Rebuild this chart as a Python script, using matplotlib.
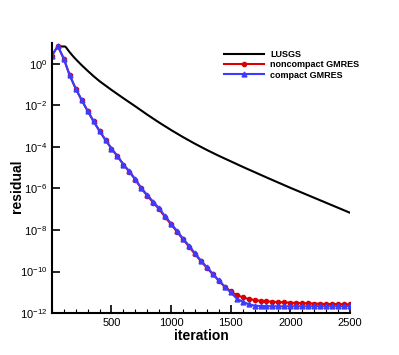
import numpy as np
import matplotlib
matplotlib.use('Agg')
import matplotlib.pyplot as plt
from matplotlib.ticker import MultipleLocator, LogLocator, NullLocator

plt.rcParams['font.family'] = ['Liberation Sans', 'DejaVu Sans']
plt.rcParams['mathtext.fontset'] = 'custom'
plt.rcParams['mathtext.rm'] = 'Liberation Sans'

# LUSGS residual (log10)
lusgs_iter = [50, 110, 120, 135, 150, 175, 200, 250, 300, 350, 400, 500, 600, 700, 800,
              900, 1000, 1100, 1200, 1300, 1400, 1600, 1800, 2000, 2200, 2400, 2500]
lusgs_log = [0.83, 0.83, 0.78, 0.66, 0.55, 0.38, 0.22, -0.07, -0.34, -0.60, -0.84,
             -1.26, -1.66, -2.05, -2.45, -2.83, -3.19, -3.53, -3.85, -4.15, -4.43,
             -4.96, -5.47, -5.97, -6.45, -6.93, -7.17]

# GMRES residuals, one point every 50 iterations
gmres_iter = list(range(0, 2501, 50))
noncompact_log = [0.39, 0.85, 0.24, -0.56, -1.20, -1.75, -2.27, -2.77, -3.24, -3.67,
                  -4.08, -4.45, -4.85, -5.20, -5.58, -6.00, -6.35, -6.68, -7.00, -7.38,
                  -7.73, -8.09, -8.45, -8.80, -9.16, -9.50, -9.82, -10.13, -10.44, -10.73,
                  -10.95, -11.13, -11.24, -11.32, -11.37, -11.41, -11.43, -11.45, -11.47, -11.48,
                  -11.50, -11.51, -11.52, -11.53, -11.54, -11.55, -11.56, -11.56, -11.57, -11.57,
                  -11.58]
compact_log = [0.39, 0.85, 0.24, -0.56, -1.20, -1.75, -2.27, -2.77, -3.24, -3.67,
               -4.08, -4.45, -4.85, -5.18, -5.56, -5.98, -6.32, -6.64, -6.96, -7.34,
               -7.69, -8.05, -8.41, -8.76, -9.12, -9.47, -9.79, -10.11, -10.43, -10.73,
               -11.00, -11.30, -11.45, -11.57, -11.64, -11.66, -11.66, -11.67, -11.67, -11.67,
               -11.67, -11.67, -11.67, -11.67, -11.67, -11.67, -11.67, -11.67, -11.67, -11.67,
               -11.67]

lusgs = 10.0 ** np.array(lusgs_log)
noncompact = 10.0 ** np.array(noncompact_log)
compact = 10.0 ** np.array(compact_log)

fig = plt.figure(figsize=(3.99, 3.55), dpi=100)
ax = fig.add_axes([0.130, 0.118, 0.747, 0.761])

ax.plot(lusgs_iter, lusgs, color='black', lw=1.5, label='LUSGS')
ax.plot(gmres_iter, noncompact, color='#dd0000', lw=1.5, marker='o', ms=3,
        label='noncompact GMRES')
ax.plot(gmres_iter, compact, color='#3c3cff', lw=1.5, marker='^', ms=3.5,
        label='compact GMRES')

ax.set_yscale('log')
ax.set_xlim(0, 2500)
ax.set_ylim(1e-12, 1e1)
ax.xaxis.set_minor_locator(MultipleLocator(100))
ax.yaxis.set_major_locator(LogLocator(base=100.0))
ax.yaxis.set_minor_locator(NullLocator())
ax.set_xticks([500, 1000, 1500, 2000, 2500])

for s in ['top', 'right']:
    ax.spines[s].set_visible(False)
for s in ['left', 'bottom']:
    ax.spines[s].set_linewidth(1.5)
ax.tick_params(which='major', direction='in', length=6, width=1.2, labelsize=8)
ax.tick_params(which='minor', direction='in', length=3, width=0.8)

ax.set_xlabel('iteration', fontsize=10, fontweight='bold', labelpad=1)
ax.set_ylabel('residual', fontsize=10, fontweight='bold')
ax.yaxis.set_label_coords(-0.093, 0.47)

leg = ax.legend(loc='upper left', bbox_to_anchor=(0.565, 0.988), frameon=False,
                fontsize=6.5, handlelength=4.4, handletextpad=0.7, labelspacing=0.15,
                borderaxespad=0.0, markerscale=1.0)
for t in leg.get_texts():
    t.set_fontweight('bold')

fig.savefig('out.png', dpi=100)
